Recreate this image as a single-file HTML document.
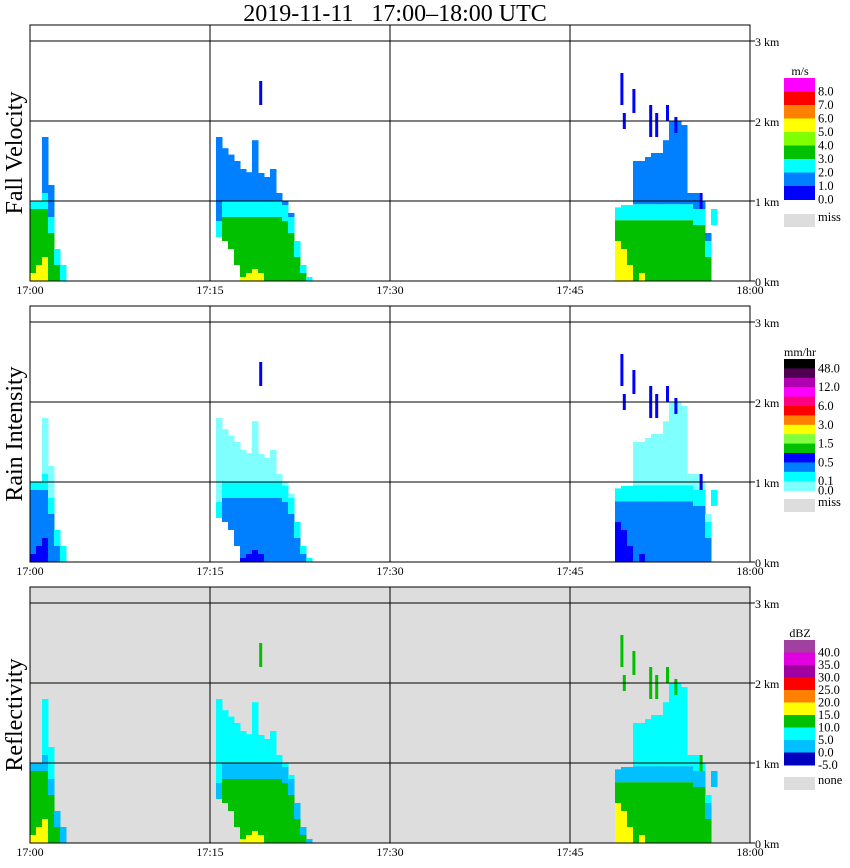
<!DOCTYPE html>
<html><head><meta charset="utf-8"><style>
body{margin:0;background:#fff;}
svg{display:block;font-family:"Liberation Serif",serif;}
</style></head><body>
<svg id="chart" width="850" height="868" xmlns="http://www.w3.org/2000/svg">
<text x="395" y="21" font-size="24" text-anchor="middle" xml:space="preserve">2019-11-11   17:00–18:00 UTC</text>
</svg>
<script>
// ---- data (minutes after 17:00, heights km) ----
const times = [0,0.5,1,1.5,2,2.5, 15.5,16,16.5,17,17.5,18,18.5,19,19.5,20,20.5,21,21.5,22,22.5,23, 48.75,49.25,49.75,50.25,50.75,51.25,51.75,52.25,52.75,53.25,53.75,54.25,54.75,55.25,55.75,56.25,56.75];
const tops  = [1.0,1.0,1.8,1.2,0.4,0.2, 1.8,1.66,1.58,1.5,1.4,1.36,1.76,1.35,1.3,1.4,1.1,1.0,0.85,0.5,0.2,0.05, 0.92,0.95,0.95,1.5,1.5,1.55,1.6,1.6,1.76,2.0,2.0,1.95,1.1,1.1,1.0,0.6,0.9];
const cores = [0.9,0.9,0.9,0.6,0.2,0, 0,0.8,0.8,0.8,0.8,0.8,0.8,0.8,0.8,0.8,0.8,0.75,0.6,0.3,0.1,0, 0.76,0.76,0.76,0.76,0.76,0.76,0.76,0.76,0.76,0.76,0.76,0.76,0.76,0.7,0.7,0.3,0];
const bases = [0,0,0,0,0,0, 0.55,0.5,0.4,0.2,0,0,0,0,0,0,0,0,0,0,0,0, 0,0,0,0,0,0,0,0,0,0,0,0,0,0,0,0,0.7];
const hots  = [0.1,0.2,0.3,0,0,0, 0,0,0,0,0.05,0.1,0.15,0.1,0,0,0,0,0,0,0,0, 0.5,0.4,0.2,0,0.1,0,0,0,0,0,0,0,0,0,0,0,0];
// isolated cells
const cellTimes = [19.1,49.2,50.2,51.6,52.1,53.0,53.7,49.4,55.8];
const cellLo    = [2.2,2.2,2.1,1.8,1.8,2.0,1.85,1.9,0.9];
const cellHi    = [2.5,2.6,2.4,2.2,2.1,2.2,2.05,2.1,1.1];
const kmTicks = [0,1,2,3];
const timeLabels = ["17:00","17:15","17:30","17:45","18:00"];
const timeTicks = [0,15,30,45,60];
const panels = [
 {name:"fall-velocity",title:"Fall Velocity",top:25,bg:"#fff",c:["#0080ff","#00ffff","#00c000","#ffff00"],cell:"#0000ff",unit:"m/s",
  leg:["#ff00ff","#ff0000","#ff8000","#ffff00","#80ff00","#00c000","#00ffff","#0080ff","#0000ff"],legTop:78,bh:13.5,
  labs:["8.0","7.0","6.0","5.0","4.0","3.0","2.0","1.0","0.0"],missLab:"miss",missY:214},
 {name:"rain-intensity",title:"Rain Intensity",top:306,bg:"#fff",c:["#80ffff","#00ffff","#0080ff","#0000ff"],cell:"#0000ff",unit:"mm/hr",
  leg:["#000000","#500050","#b000b0","#ff00ff","#ff0080","#ff0000","#ff8000","#ffff00","#80ff40","#00c000","#0000ff","#0080ff","#00ffff","#80ffff"],legTop:359,bh:9.4,
  labs:["48.0","","12.0","","6.0","","3.0","","1.5","","0.5","","0.1","0.0"],missLab:"miss",missY:499},
 {name:"reflectivity",title:"Reflectivity",top:587,bg:"#dddddd",c:["#00ffff","#00c0ff","#00c000","#ffff00"],cell:"#00c000",unit:"dBZ",
  leg:["#a040a0","#e000e0","#a000a0","#ff0000","#ff8000","#ffff00","#00c000","#00ffff","#00c0ff","#0000c0"],legTop:640,bh:12.5,
  labs:["40.0","35.0","30.0","25.0","20.0","15.0","10.0","5.0","0.0","-5.0"],missLab:"none",missY:777}
];
const svg=document.getElementById('chart');
const NS="http://www.w3.org/2000/svg";
const X0=30,X1=750;
const xs=t=>X0+(t/60)*(X1-X0);
function mk(tag,attrs,parent){const e=document.createElementNS(NS,tag);for(const k in attrs)e.setAttribute(k,attrs[k]);(parent||svg).appendChild(e);return e;}
panels.forEach(p=>{
  const y0=p.top+256;
  const ys=h=>y0-h*80;
  const g=mk('g',{});
  
  
  const bg=mk('rect',{x:X0,y:p.top,width:X1-X0,height:256,fill:p.bg},g);
  
  
  times.forEach((t,i)=>{
    const x=xs(t), w=6.5;
    const segs=[[bases[i],Math.max(bases[i],hots[i]),p.c[3]],[Math.max(bases[i],hots[i]),Math.max(bases[i],cores[i]),p.c[2]],[Math.max(bases[i],cores[i]),Math.min(tops[i],Math.max(bases[i],cores[i])+0.2),p.c[1]],[Math.max(bases[i],cores[i])+0.2,tops[i],p.c[0]]];
    segs.forEach(s=>{ if(s[1]>s[0]){
      const r=mk('rect',{x:x,y:ys(s[1]),width:w,height:ys(s[0])-ys(s[1]),fill:s[2]},g);
      
      
    }});
  });
  cellTimes.forEach((t,i)=>{
    const r=mk('rect',{x:xs(t),y:ys(cellHi[i]),width:3,height:ys(cellLo[i])-ys(cellHi[i]),fill:p.cell},g);
    
    
  });
  kmTicks.forEach(k=>{
    const l=mk('line',{x1:X0,x2:X1+5,y1:ys(k),y2:ys(k),stroke:'#000','stroke-width':1},g);
    
    
    const tx=mk('text',{x:X1+5,y:ys(k)+5,'font-size':12},g);
    
    
    tx.textContent=k+' km';
  });
  timeTicks.forEach((t,i)=>{
    const l=mk('line',{x1:xs(t),x2:xs(t),y1:p.top,y2:y0,stroke:'#000','stroke-width':1},g);
    
    
    const tx=mk('text',{x:xs(t),y:y0+13,'font-size':12,'text-anchor':'middle'},g);
    
    
    tx.textContent=timeLabels[i];
  });
  const fr=mk('rect',{x:X0,y:p.top,width:X1-X0,height:256,fill:'none',stroke:'#000','stroke-width':1},g);
  
  
  const yt=mk('text',{x:0,y:0,'font-size':24,'text-anchor':'middle',transform:`translate(22,${p.top+128}) rotate(-90)`},g);
  
  
  yt.textContent=p.title;
  const lg=mk('g',{},g);
  
  
  const ut=mk('text',{x:800,y:p.legTop-3,'font-size':12,'text-anchor':'middle'},lg);
  
  
  ut.textContent=p.unit;
  p.leg.forEach((c,i)=>{
    const r=mk('rect',{x:784,y:p.legTop+i*p.bh,width:31,height:p.bh+0.5,fill:c},lg);
    
    
    if(p.labs[i]){
      const t=mk('text',{x:818,y:p.legTop+(i+1)*p.bh+4,'font-size':12.5},lg);
      
      
      t.textContent=p.labs[i];
    }
  });
  const mr=mk('rect',{x:784,y:p.missY,width:31,height:13,fill:'#dddddd'},lg);
  
  
  const mt=mk('text',{x:818,y:p.missY+7,'font-size':12.5},lg);
  
  
  mt.textContent=p.missLab;
});
</script>
</body></html>
